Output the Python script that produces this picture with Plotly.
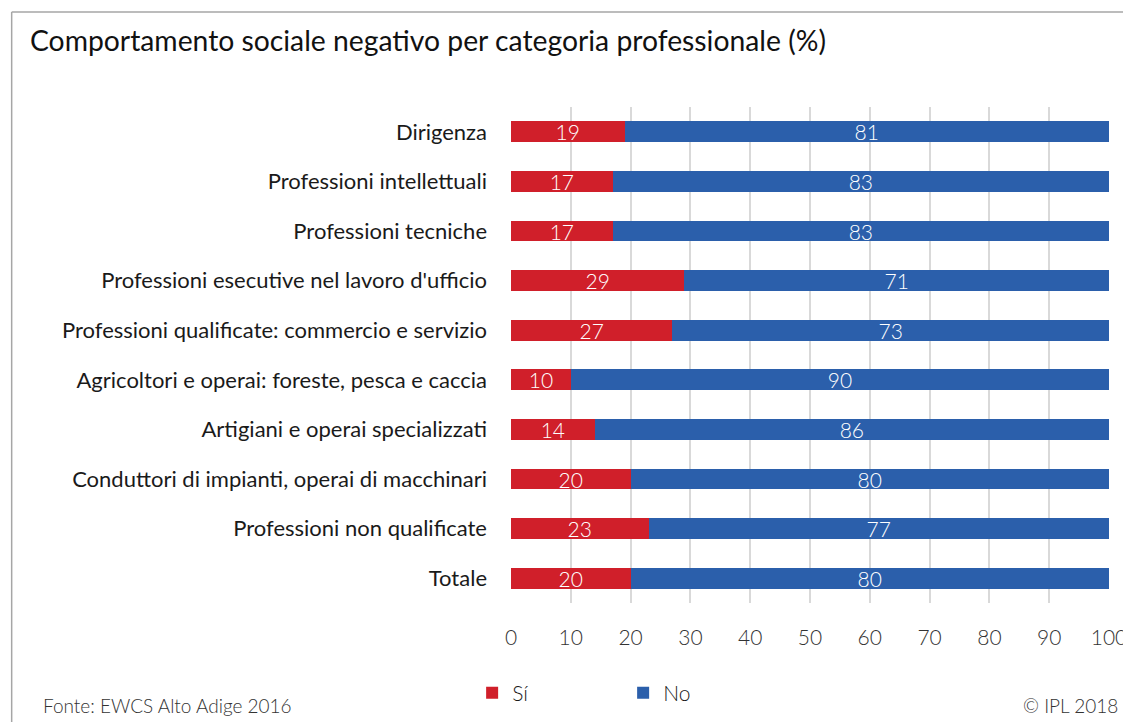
import plotly.graph_objects as go

# dati
categorie = [
    "Dirigenza",
    "Professioni intellettuali",
    "Professioni tecniche",
    "Professioni esecutive nel lavoro d'ufficio",
    "Professioni qualificate: commercio e servizio",
    "Agricoltori e operai: foreste, pesca e caccia",
    "Artigiani e operai specializzati",
    "Conduttori di impianti, operai di macchinari",
    "Professioni non qualificate",
    "Totale",
]
si = [19, 17, 17, 29, 27, 10, 14, 20, 23, 20]
no = [81, 83, 83, 71, 73, 90, 86, 80, 77, 80]
tick_vals = [0, 10, 20, 30, 40, 50, 60, 70, 80, 90, 100]

ROSSO = "#d01f2a"
BLU = "#2b5fab"
FONT = "Lato"

# la pagina ha un margine di 8px: le posizioni sotto sono in pixel dello schermo
OFF = 8
W, H = 1131, 722
L = 511 - OFF
R = W - (1111 - OFF)
T = 107 - OFF
B = H - (603 - OFF)


def px_x(px):
    return (px - OFF - L) / (W - L - R)


def px_y(py):
    return (H - B - (py - OFF)) / (H - T - B)


fig = go.Figure()

for nome, valori, colore in [("Sí", si, ROSSO), ("No", no, BLU)]:
    fig.add_trace(go.Bar(
        y=categorie, x=valori, name=nome, orientation="h",
        marker=dict(color=colore, line=dict(width=0)),
        text=valori, textposition="inside", insidetextanchor="middle",
        constraintext="none", textangle=0,
        textfont=dict(color="white", size=21, family=FONT, weight=300),
        hoverinfo="skip",
    ))

fig.update_layout(
    width=W, height=H,
    barmode="stack",
    bargap=0.58,
    margin=dict(l=L, r=R, t=T, b=B, pad=0),
    paper_bgcolor="white",
    plot_bgcolor="white",
    font=dict(family=FONT, color="#1a1a1a"),
    xaxis=dict(
        range=[0, 100], tickvals=tick_vals,
        showgrid=True, gridcolor="#d9d9d9", gridwidth=1.5,
        zeroline=False, showline=False,
        tickfont=dict(size=21, color="#333333", weight=300),
        ticklabelstandoff=20,
        ticklabeloverflow="allow",
        fixedrange=True,
    ),
    yaxis=dict(
        autorange="reversed",
        showgrid=False, zeroline=False, showline=False,
        tickfont=dict(size=22, color="#1a1a1a"),
        ticklabelstandoff=23,
        fixedrange=True,
    ),
    legend=dict(
        orientation="h",
        traceorder="normal",
        x=px_x(472), xanchor="left",
        y=px_y(693), yanchor="middle",
        font=dict(size=21, color="#1a1a1a", weight=300),
        entrywidth=106, entrywidthmode="pixels",
        itemclick=False, itemdoubleclick=False,
    ),
    showlegend=True,
)

# titolo e note
fig.add_annotation(
    text="Comportamento sociale negativo per categoria professionale (%)",
    xref="paper", yref="paper", x=px_x(26), y=px_y(40),
    xanchor="left", yanchor="middle", showarrow=False,
    font=dict(size=28.3, color="#111111", family=FONT),
)
fig.add_annotation(
    text="Fonte: EWCS Alto Adige 2016",
    xref="paper", yref="paper", x=px_x(39), y=px_y(705),
    xanchor="left", yanchor="middle", showarrow=False,
    font=dict(size=19, color="#333333", family=FONT, weight=300),
)
fig.add_annotation(
    text="© IPL 2018",
    xref="paper", yref="paper", x=px_x(1122), y=px_y(705),
    xanchor="right", yanchor="middle", showarrow=False,
    font=dict(size=19, color="#333333", family=FONT, weight=300),
)

# cornice
fig.add_shape(type="line", xref="paper", yref="paper",
              x0=px_x(10), x1=px_x(10), y0=px_y(12), y1=px_y(740),
              line=dict(color="#a6a6a6", width=1.5))
fig.add_shape(type="line", xref="paper", yref="paper",
              x0=px_x(10), x1=px_x(1150), y0=px_y(12), y1=px_y(12),
              line=dict(color="#a6a6a6", width=1.5))

fig.write_html("out.html")
